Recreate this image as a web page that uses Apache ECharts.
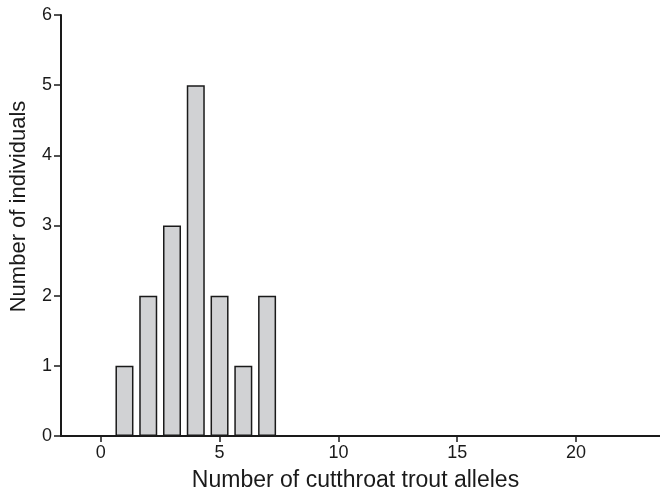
<!doctype html>
<html lang="en">
<head>
    <meta charset="UTF-8">
    <title>Cutthroat trout alleles</title>
    <script src="https://cdn.jsdelivr.net/npm/echarts@6/dist/echarts.min.js"></script>
    <style>
        body { margin: 0; background: #fff; }
    </style>
</head>
<body>
    <div id="main" style="width: 660px;height:492px;"></div>
    <script>
        // allele counts and how many fish carry each
        var alleles = [1, 2, 3, 4, 5, 6, 7];
        var individuals = [1, 2, 3, 5, 2, 1, 2];
        var xTicks = [0, 5, 10, 15, 20];
        var yTicks = [0, 1, 2, 3, 4, 5, 6];

        var barData = alleles.map(function (a, i) {
            return [a, individuals[i]];
        });

        var font = 'Liberation Sans, Arial, Helvetica, sans-serif';
        var myChart = echarts.init(document.getElementById('main'));
        myChart.setOption({
            backgroundColor: '#fff',
            animation: false,
            grid: {
                left: 61,
                right: 0,
                top: 15,
                bottom: 56,
                containLabel: false,
                outerBoundsMode: 'none'
            },
            xAxis: {
                type: 'value',
                min: -1.67,
                max: 23.53,
                name: 'Number of cutthroat trout alleles',
                nameLocation: 'middle',
                nameGap: 33,
                nameTextStyle: { fontFamily: font, fontSize: 23, color: '#1a1a1a',
                    padding: [0, 10, 0, 0] },
                axisLine: { onZero: false, lineStyle: { color: '#1a1a1a', width: 2 } },
                axisTick: { show: true, length: 6, lineStyle: { color: '#1a1a1a', width: 1.5 },
                    customValues: xTicks },
                axisLabel: { fontFamily: font, fontSize: 18, color: '#1a1a1a', margin: 8,
                    customValues: xTicks },
                splitLine: { show: false }
            },
            yAxis: {
                type: 'value',
                min: 0,
                max: 6,
                interval: 1,
                name: 'Number of individuals',
                nameLocation: 'middle',
                nameGap: 31,
                nameTextStyle: { fontFamily: font, fontSize: 22, color: '#1a1a1a',
                    padding: [0, 0, 0, 38] },
                axisLine: { show: true, onZero: false, lineStyle: { color: '#1a1a1a', width: 2 } },
                axisTick: { show: true, length: 7, lineStyle: { color: '#1a1a1a', width: 1.5 } },
                axisLabel: { fontFamily: font, fontSize: 18, color: '#1a1a1a', margin: 9,
                    formatter: function (v) { return yTicks.indexOf(v) >= 0 ? v : ''; } },
                splitLine: { show: false }
            },
            series: [{
                type: 'bar',
                data: barData,
                barWidth: 18,
                itemStyle: {
                    color: '#d1d2d4',
                    borderColor: '#1a1a1a',
                    borderWidth: 1.5
                }
            }]
        });
    </script>
</body>
</html>
